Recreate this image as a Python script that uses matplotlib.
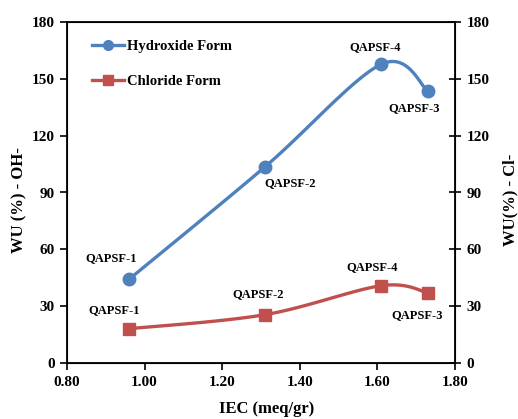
import numpy as np
import matplotlib
matplotlib.use('Agg')
import matplotlib.pyplot as plt
from matplotlib.lines import Line2D

plt.rcParams['font.family'] = ['Liberation Serif', 'DejaVu Serif']
plt.rcParams['font.weight'] = 'bold'

# dados
iec = [0.96, 1.31, 1.61, 1.73]
wu_oh = [44.2, 103.5, 157.7, 143.7]
wu_cl = [18.1, 25.5, 40.8, 37.1]
nomes = ['QAPSF-1', 'QAPSF-2', 'QAPSF-4', 'QAPSF-3']

azul = '#4F81BD'
vermelho = '#C0504D'

xmin, xmax = 0.80, 1.80
ymin, ymax = 0, 180


def suavizar(xs, ys, n=40):
    # curva suave estilo Excel (Catmull-Rom em coordenadas normalizadas)
    px = (np.array(xs) - xmin) / (xmax - xmin) * 388
    py = (np.array(ys) - ymin) / (ymax - ymin) * 341
    pts = np.column_stack([px, py])
    pts = np.vstack([pts[0], pts, pts[-1]])
    saida = []
    t = np.linspace(0, 1, n)[:, None]
    for i in range(1, len(pts) - 2):
        p0, p1, p2, p3 = pts[i - 1], pts[i], pts[i + 1], pts[i + 2]
        c1 = p1 + (p2 - p0) / 6
        c2 = p2 - (p3 - p1) / 6
        b = ((1 - t) ** 3) * p1 + 3 * ((1 - t) ** 2) * t * c1 + 3 * (1 - t) * t ** 2 * c2 + t ** 3 * p2
        saida.append(b)
    saida = np.vstack(saida)
    sx = saida[:, 0] / 388 * (xmax - xmin) + xmin
    sy = saida[:, 1] / 341 * (ymax - ymin) + ymin
    return sx, sy


fig = plt.figure(figsize=(5.18, 4.19), dpi=100)
ax = fig.add_axes([67 / 518, 56 / 419, 388 / 518, 341 / 419])

sx, sy = suavizar(iec, wu_oh)
ax.plot(sx, sy, color=azul, lw=2.4, solid_capstyle='round')
ax.plot(iec, wu_oh, 'o', color=azul, ms=9)

sx, sy = suavizar(iec, wu_cl)
ax.plot(sx, sy, color=vermelho, lw=2.4, solid_capstyle='round')
ax.plot(iec, wu_cl, 's', color=vermelho, ms=8.5)

ax.set_xlim(xmin, xmax)
ax.set_ylim(ymin, ymax)
ax.set_xticks(np.arange(0.8, 1.81, 0.2))
ax.set_xticklabels(['%.2f' % v for v in np.arange(0.8, 1.81, 0.2)])
ax.set_yticks(range(0, 181, 30))
ax.tick_params(direction='out', length=5, width=1.2, labelsize=11, pad=4)
for s in ax.spines.values():
    s.set_linewidth(1.3)

ax2 = ax.twinx()
ax2.set_ylim(ymin, ymax)
ax2.set_yticks(range(0, 181, 30))
ax2.tick_params(direction='inout', length=9, width=1.2, labelsize=11, pad=4)

# rotulos dos pontos
off_oh = [(-18, 21), (25, -16), (-6, 17), (-14, -17)]
off_cl = [(-15, 19), (-7, 21), (-9, 19), (-11, -22)]
for i in range(len(iec)):
    ax.annotate(nomes[i], (iec[i], wu_oh[i]), xytext=off_oh[i], textcoords='offset pixels',
                ha='center', va='center', fontsize=9, fontweight='bold')
    ax.annotate(nomes[i], (iec[i], wu_cl[i]), xytext=off_cl[i], textcoords='offset pixels',
                ha='center', va='center', fontsize=9, fontweight='bold')

fig.text(19 / 518, 1 - 200 / 419, 'WU (%) - OH-', rotation=90, ha='center', va='center',
         fontsize=12, fontweight='bold')
fig.text(510 / 518, 1 - 200 / 419, 'WU(%) - Cl-', rotation=90, ha='center', va='center',
         fontsize=12, fontweight='bold')
fig.text(267 / 518, 1 - 409 / 419, 'IEC (meq/gr)', ha='center', va='center',
         fontsize=12, fontweight='bold')

handles = [Line2D([], [], color=azul, lw=2.4, marker='o', ms=7),
           Line2D([], [], color=vermelho, lw=2.4, marker='s', ms=7)]
ax.legend(handles, ['Hydroxide Form', 'Chloride Form'], loc='upper left',
          bbox_to_anchor=(0.03, 0.985), frameon=False, prop={'size': 10.5, 'weight': 'bold'},
          handlelength=2.2, handletextpad=0.2, labelspacing=1.45)

fig.savefig('out.png', dpi=100)
